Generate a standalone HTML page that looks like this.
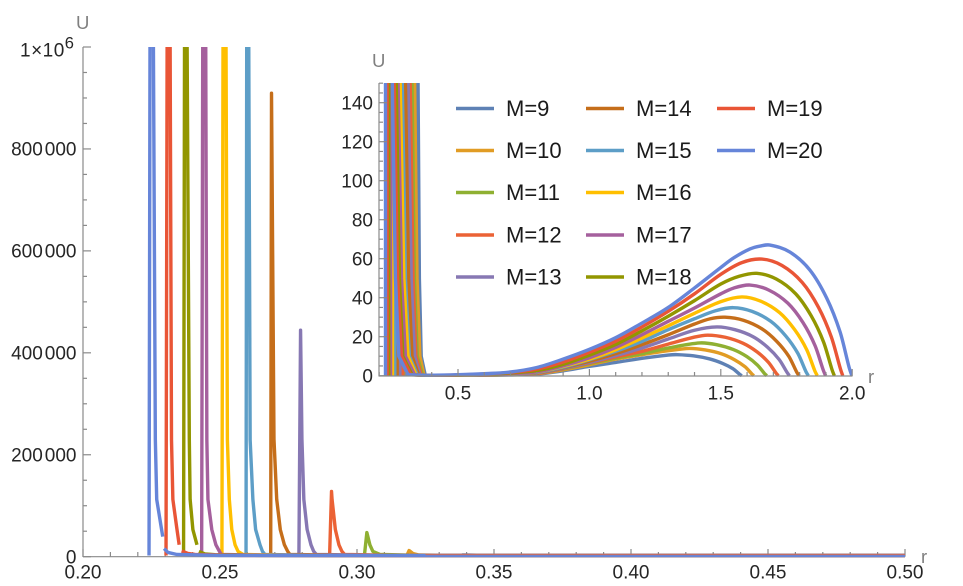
<!DOCTYPE html>
<html>
<head>
<meta charset="utf-8">
<title>U versus r for M=9 to M=20</title>
<style>
html,body{margin:0;padding:0;background:#fff;}
svg{display:block;}
text{font-family:"Liberation Sans",Arial,sans-serif;}
</style>
</head>
<body>
<svg id="chart" width="963" height="586" viewBox="0 0 963 586" xmlns="http://www.w3.org/2000/svg">
<defs>
<clipPath id="main-clip"><rect x="83" y="47" width="822" height="511"/></clipPath>
<clipPath id="inset-clip"><rect x="380" y="83" width="472" height="294"/></clipPath>
</defs>
<rect width="963" height="586" fill="#fff"/>
<g id="main-axes"></g>
<g clip-path="url(#main-clip)"><g id="main-series" transform="translate(0,-1.2)"></g></g>
<g id="inset-series" clip-path="url(#inset-clip)"></g>
<g id="inset-axes"></g>
<g id="legend"></g>
</svg>
<script>
const seriesLabels=['M=9','M=10','M=11','M=12','M=13','M=14','M=15','M=16','M=17','M=18','M=19','M=20'];
const seriesColors=['#5E81B5','#E19C24','#8FB032','#EB6235','#8778B3','#C56E1A','#5D9EC7','#FFBF00','#A5609D','#929600','#E95536','#6685D9'];

const mainXTicks=['0.20','0.25','0.30','0.35','0.40','0.45','0.50'];
const mainYTicks=[0,200000,400000,600000,800000];
const mainYTickLabels=['0','200 000','400 000','600 000','800 000'];
const insetXTicks=['0.5','1.0','1.5','2.0'];
const insetYTicks=[0,20,40,60,80,100,120,140];

/* Spike section of each series (null starts a new segment where the plotted line breaks) */
const spikeR9=[.338,.3385,.3395,.348,.353,.36,.375];
const spikeU9=[0,1000,1200,150,50,10,.5];
const spikeR10=[.3182,.319,.3204,.3226,.335,.344,.355,.37];
const spikeU10=[0,9800,3900,1000,150,50,10,.5];
const spikeR11=[.3027,.3036,.3047,.3058,.3084,.325,.334,.345,.365];
const spikeU11=[0,45000,21000,8000,2000,150,50,10,.5];
const spikeR12=[.29,.2907,.2909,.2921,.2934,.2945,.2955,.318,.329,.34,.36];
const spikeU12=[0,125700,110000,51000,21000,8000,2000,150,50,10,.5];
const spikeR13=[.2788,.2794,.2799,.2806,.2818,.2832,.2842,.2852,.31,.322,.335,.355];
const spikeU13=[0,442000,228000,110000,51000,21000,8000,2000,150,50,10,.5];
const spikeR14=[.2685,.2688,.2697,.2707,.272,.2735,.2747,.2755,.30,.312,.325,.35];
const spikeU14=[0,907000,228000,110000,51000,21000,8000,2000,150,50,10,.5];
const spikeR15=[.2595,.26,.2605,.261,.262,.263,.2646,.2655,.2664,.288,.30,.315,.345];
const spikeU15=[0,2000000,1000000,227000,110000,51000,21000,8000,2000,150,50,10,.5];
const spikeR16=[.2507,.2515,.2522,.2527,.2534,.2543,.2555,.2566,.2584,.28,.294,.31,.34];
const spikeU16=[0,2000000,1000000,227000,110000,51000,21000,8000,2000,150,50,10,.5];
const spikeR17=[.2433,.2441,.2448,.2452,.2456,.247,.2485,.2504,.272,.285,.30,.335];
const spikeU17=[0,2000000,1000000,227000,110000,51000,21000,2000,150,50,10,.5];
const spikeR18=[.2367,.2374,.238,.2388,.2391,.2401,.2416,null,.2423,.2445,.2482,.265,.277,.29,.325];
const spikeU18=[0,2000000,1000000,227000,110000,51000,21000,null,8000,3000,1500,150,50,10,.5];
const spikeR19=[.2303,.2311,.2318,.2323,.2328,.2342,.2351,null,.236,.2383,.2409,.257,.27,.285,.32];
const spikeU19=[0,2000000,1000000,227000,110000,55000,21000,null,9000,4000,2000,150,50,10,.5];
const spikeR20=[.2241,.2248,.2257,.2264,.2269,.2291,null,.2296,.231,.2343,.25,.262,.275,.31];
const spikeU20=[0,2000000,1000000,227000,110000,37000,null,13700,6000,2000,150,50,10,.5];

/* Hump section of each series */
const curveR9=[.38,.5,.6,.7,.8,.9,1,1.1,1.2,1.3,1.335,1.396,1.458,1.507,1.546,1.573,1.58];
const curveU9=[.1,.1,.2,.4,.8,2.5,4.8,6.8,8.9,10.6,10.8,10.2,8.6,6.3,3.6,.6,0];
const curveR10=[.38,.5,.6,.7,.8,.9,1,1.1,1.2,1.3,1.38,1.441,1.503,1.552,1.592,1.619,1.626];
const curveU10=[.1,.1,.2,.5,1,3,5.6,8.5,10.8,12.8,14,13.2,11.2,8.2,4.6,.8,0];
const curveR11=[.38,.5,.6,.7,.8,.9,1,1.1,1.2,1.3,1.42,1.484,1.548,1.599,1.639,1.667,1.675];
const curveU11=[.1,.1,.3,.6,1.2,3.4,6.2,9,11.3,14.2,16.8,15.9,13.4,9.8,5.5,1,0];
const curveR12=[.38,.5,.6,.7,.8,.9,1,1.1,1.2,1.3,1.4,1.45,1.517,1.585,1.638,1.681,1.711,1.719];
const curveU12=[.1,.1,.3,.6,1.2,3.6,6.5,9.6,12.5,16.2,19.8,20.8,19.7,16.6,12.2,6.9,1.2,0];
const curveR13=[.38,.5,.6,.7,.8,.9,1,1.1,1.2,1.3,1.4,1.485,1.554,1.623,1.678,1.722,1.753,1.761];
const curveU13=[.1,.2,.4,.7,1.4,3.8,6.8,10.3,14.2,18.8,23.3,25,23.6,20,14.6,8.3,1.5,0];
const curveR14=[.38,.5,.6,.7,.8,.9,1,1.1,1.2,1.3,1.4,1.46,1.516,1.587,1.657,1.713,1.759,1.789,1.798];
const curveU14=[.1,.2,.4,.8,1.5,4.1,7.4,11.3,15.9,21,26.5,29.2,30,28.4,24,17.6,9.9,1.8,0];
const curveR15=[.38,.5,.6,.7,.8,.9,1,1.1,1.2,1.3,1.4,1.48,1.547,1.619,1.69,1.747,1.793,1.824,1.833];
const curveU15=[.1,.2,.5,.9,1.7,4.4,8.2,12.5,17.6,23.6,29.2,33.3,34.9,33,27.9,20.4,11.5,2.1,0];
const curveR16=[.38,.5,.6,.7,.8,.9,1,1.1,1.2,1.3,1.4,1.5,1.58,1.652,1.724,1.781,1.827,1.858,1.867];
const curveU16=[.1,.2,.5,1,1.9,4.8,8.5,13.3,19.3,25.6,32,38,40.4,38.2,32.3,23.6,13.3,2.4,0];
const curveR17=[.38,.5,.6,.7,.8,.9,1,1.1,1.2,1.3,1.4,1.5,1.55,1.611,1.683,1.755,1.813,1.859,1.89,1.899];
const curveU17=[.1,.3,.6,1.1,2,5.1,9.2,14.5,21,27.9,34.7,42,45,46.5,43.9,37.2,27.2,15.3,2.8,0];
const curveR18=[.38,.5,.6,.7,.8,.9,1,1.1,1.2,1.3,1.4,1.5,1.57,1.637,1.711,1.785,1.844,1.891,1.923,1.932];
const curveU18=[.1,.3,.7,1.4,2.6,5.8,10.5,16,23,30.5,38.5,47,51,52.5,49.6,42,30.7,17.3,3.2,0];
const curveR19=[.38,.5,.6,.7,.8,.9,1,1.1,1.2,1.3,1.4,1.5,1.58,1.656,1.733,1.81,1.872,1.921,1.955,1.964];
const curveU19=[.2,.4,.9,1.7,3.4,7,12,17.7,25,33,42,52,58,59.8,56.5,47.8,35,19.7,3.6,0];
const curveR20=[.38,.5,.6,.7,.8,.9,1,1.1,1.2,1.3,1.4,1.5,1.55,1.611,1.65,1.687,1.763,1.839,1.903,1.954,1.989,1.999];
const curveU20=[.2,.5,1,1.9,4.2,8.5,13.5,19.5,27,35,45,55.5,60.5,65,66.5,67,63.4,54.2,39.8,22.4,3.9,0];

const spikeRs=[spikeR9,spikeR10,spikeR11,spikeR12,spikeR13,spikeR14,spikeR15,spikeR16,spikeR17,spikeR18,spikeR19,spikeR20];
const spikeUs=[spikeU9,spikeU10,spikeU11,spikeU12,spikeU13,spikeU14,spikeU15,spikeU16,spikeU17,spikeU18,spikeU19,spikeU20];
const curveRs=[curveR9,curveR10,curveR11,curveR12,curveR13,curveR14,curveR15,curveR16,curveR17,curveR18,curveR19,curveR20];
const curveUs=[curveU9,curveU10,curveU11,curveU12,curveU13,curveU14,curveU15,curveU16,curveU17,curveU18,curveU19,curveU20];

const SVGNS='http://www.w3.org/2000/svg';
const mainX=r=>83+(r-0.2)*2740;
const mainY=u=>556.7-u/1000000*509.7;
const insetX=r=>458+(r-0.5)*262.8;
const insetY=u=>375.7-u*1.95;

function make(parent,tag,attrs,name,text){
  const el=document.createElementNS(SVGNS,tag);
  for(const k in attrs){el.setAttribute(k,attrs[k]);}
  
  
  if(text!==undefined){el.textContent=text;}
  parent.appendChild(el);
  return el;
}
function tickLine(parent,x1,y1,x2,y2,name){
  make(parent,'line',{x1:x1,y1:y1,x2:x2,y2:y2,stroke:'#8a8a8a','stroke-width':1.2},name);
}
function pathFor(i,sx,sy){
  const sr=spikeRs[i],su=spikeUs[i],cr=curveRs[i],cu=curveUs[i];
  let d='',pen=false;
  for(let k=0;k<sr.length;k++){
    if(sr[k]===null){pen=false;continue;}
    d+=(pen?'L':'M')+sx(sr[k]).toFixed(2)+' '+sy(su[k]).toFixed(2);
    pen=true;
  }
  const pts=cr.map((r,k)=>[sx(r),sy(cu[k])]);
  const slope=k=>{
    const a=pts[Math.max(k-1,0)],b=pts[Math.min(k+1,pts.length-1)];
    return (b[1]-a[1])/(b[0]-a[0]);
  };
  d+='L'+pts[0][0].toFixed(2)+' '+pts[0][1].toFixed(2);
  for(let k=0;k<pts.length-1;k++){
    const p1=pts[k],p2=pts[k+1],h=(p2[0]-p1[0])/3;
    d+='C'+(p1[0]+h).toFixed(2)+' '+(p1[1]+h*slope(k)).toFixed(2)+' '+(p2[0]-h).toFixed(2)+' '+(p2[1]-h*slope(k+1)).toFixed(2)+' '+p2[0].toFixed(2)+' '+p2[1].toFixed(2);
  }
  return d;
}

/* Main axes */
const mA=document.getElementById('main-axes');
tickLine(mA,83,47,83,557,'main-y-axis-line');
tickLine(mA,83,556.7,905,556.7,'main-x-axis-line');
for(let k=0;k<=30;k++){
  const x=mainX(0.2+k*0.01);
  tickLine(mA,x,556.7,x,k%5===0?549:552,'main-x-tick');
}
for(let k=0;k<=20;k++){
  const y=mainY(k*50000);
  tickLine(mA,83,y,k%4===0?91:87,y,'main-y-tick');
}
mainXTicks.forEach(t=>{
  make(mA,'text',{x:mainX(parseFloat(t)),y:578.5,'font-size':19,'text-anchor':'middle',fill:'#262626'},'main-x-tick-label',t);
});
mainYTicks.forEach((v,k)=>{
  const label=make(mA,'text',{x:76.5,y:mainY(v)+6.6,'font-size':19,'text-anchor':'end',fill:'#262626'},'main-y-tick-label');
  const parts=mainYTickLabels[k].split(' ');
  parts.forEach((part,p)=>{
    make(label,'tspan',p>0?{dx:2}:{},'main-y-tick-label-part',part);
  });
});
const topLabel=make(mA,'text',{x:20,y:56.5,'font-size':19,'letter-spacing':0.5,fill:'#262626'},'main-y-top-tick-label','1\u00d710');
make(topLabel,'tspan',{dy:-8,'font-size':16.5},'main-y-top-tick-exponent','6');
make(mA,'text',{x:76,y:29,'font-size':18.5,fill:'#808080'},'main-y-axis-title','U');
make(mA,'text',{x:921,y:563,'font-size':18.5,fill:'#808080'},'main-x-axis-title','r');

/* Main series */
const mS=document.getElementById('main-series');
seriesLabels.forEach((label,i)=>{
  make(mS,'path',{d:pathFor(i,mainX,mainY),fill:'none',stroke:seriesColors[i],'stroke-width':3.4,'stroke-linejoin':'round'},'main-series-'+label.replace('=','-').toLowerCase());
});
make(mS,'line',{x1:mainX(0.325),y1:mainY(0)-1,x2:mainX(0.5),y2:mainY(0)-1,stroke:seriesColors[3],'stroke-width':1.2,'stroke-opacity':0.7},'main-baseline-tint');

/* Inset series */
const iS=document.getElementById('inset-series');
seriesLabels.forEach((label,i)=>{
  make(iS,'path',{d:pathFor(i,insetX,insetY),fill:'none',stroke:seriesColors[i],'stroke-width':3.4,'stroke-linejoin':'round'},'inset-series-'+label.replace('=','-').toLowerCase());
});

/* Inset axes */
const iA=document.getElementById('inset-axes');
tickLine(iA,379,83,379,376.5,'inset-y-axis-line');
tickLine(iA,379,376,852.5,376,'inset-x-axis-line');
for(let k=0;k<=18;k++){
  const x=insetX(0.2+k*0.1);
  tickLine(iA,x,376,x,(k+2)%5===0?369:372,'inset-x-tick');
}
for(let k=0;k<=30;k++){
  const y=insetY(k*5);
  tickLine(iA,379,y,k%4===0?387:383,y,'inset-y-tick');
}
insetXTicks.forEach(t=>{
  make(iA,'text',{x:insetX(parseFloat(t)),y:399.5,'font-size':19,'text-anchor':'middle',fill:'#262626'},'inset-x-tick-label',t);
});
insetYTicks.forEach(v=>{
  make(iA,'text',{x:373,y:insetY(v)+6.6,'font-size':19,'text-anchor':'end',fill:'#262626'},'inset-y-tick-label',String(v));
});
make(iA,'text',{x:372,y:67,'font-size':18.5,fill:'#808080'},'inset-y-axis-title','U');
make(iA,'text',{x:868,y:383,'font-size':18.5,fill:'#808080'},'inset-x-axis-title','r');

/* Legend */
const lg=document.getElementById('legend');
const legendColumns=[456,586,717];
const legendRows=[108.5,150.5,192.5,235,277];
seriesLabels.forEach((label,i)=>{
  const col=Math.floor(i/5),row=i%5;
  const x=legendColumns[col],y=legendRows[row];
  make(lg,'line',{x1:x,y1:y,x2:x+38,y2:y,stroke:seriesColors[i],'stroke-width':3.5},'legend-swatch-'+label.replace('=','-').toLowerCase());
  make(lg,'text',{x:x+50,y:y+7.5,'font-size':22,fill:'#1a1a1a'},'legend-label-'+label.replace('=','-').toLowerCase(),label);
});
</script>
</body>
</html>
